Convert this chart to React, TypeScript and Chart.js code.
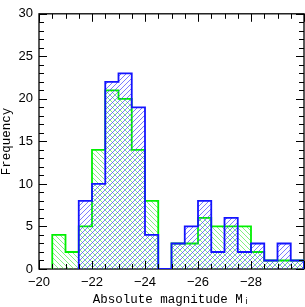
import React, { useEffect, useRef } from 'react';
import { Chart, registerables } from 'chart.js';

Chart.register(...registerables);

// Histogram bin edges (absolute magnitude), bins of 0.5 mag
const BIN_EDGES = [-20.5, -21, -21.5, -22, -22.5, -23, -23.5, -24, -24.5, -25, -25.5, -26, -26.5, -27, -27.5, -28, -28.5, -29, -29.5, -30];
const BLUE_COUNTS = [0, 0, 8, 10, 22, 23, 19, 4, 0, 3, 5, 8, 2, 6, 2, 3, 1, 3, 1];
const GREEN_COUNTS = [4, 2, 5, 14, 21, 20, 14, 8, 0, 3, 3, 6, 5, 5, 5, 2, 1, 1, 1];
const X_TICKS = [-20, -22, -24, -26, -28];
const Y_TICKS = [0, 5, 10, 15, 20, 25, 30];
const X_MIN = -30;
const X_MAX = -20;
const Y_MIN = 0;
const Y_MAX = 30;
const X_MINOR_STEP = 0.5;
const X_MAJOR_EVERY = 2;
const Y_MINOR_STEP = 1;
const Y_MAJOR_EVERY = 5;

const BLUE = 'rgb(20,20,255)';
const GREEN = 'rgb(0,240,0)';

function stepPoints(counts: number[]) {
  const first = counts.findIndex((v) => v > 0);
  let last = counts.length - 1;
  while (last > 0 && counts[last] === 0) last--;
  const pts: { x: number; y: number }[] = [{ x: BIN_EDGES[first], y: 0 }];
  for (let i = first; i <= last; i++) pts.push({ x: BIN_EDGES[i], y: counts[i] });
  pts.push({ x: BIN_EDGES[last + 1], y: counts[last] });
  pts.push({ x: BIN_EDGES[last + 1], y: 0 });
  return pts;
}

function hatch(ctx: CanvasRenderingContext2D, color: string, forward: boolean) {
  const s = 5;
  const c = document.createElement('canvas');
  c.width = s;
  c.height = s;
  const g = c.getContext('2d')!;
  g.strokeStyle = color;
  g.lineWidth = 0.9;
  g.beginPath();
  if (forward) {
    g.moveTo(0, s); g.lineTo(s, 0);
    g.moveTo(-1, 1); g.lineTo(1, -1);
    g.moveTo(s - 1, s + 1); g.lineTo(s + 1, s - 1);
  } else {
    g.moveTo(0, 0); g.lineTo(s, s);
    g.moveTo(-1, s - 1); g.lineTo(1, s + 1);
    g.moveTo(s - 1, -1); g.lineTo(s + 1, 1);
  }
  g.stroke();
  return ctx.createPattern(c, 'repeat')!;
}

const framePlugin = {
  id: 'frame',
  beforeDatasetsDraw(chart: any) {
    const { ctx, chartArea: a } = chart;
    ctx.save();
    ctx.strokeStyle = '#000';
    ctx.lineWidth = 1.3;
    ctx.strokeRect(a.left, a.top, a.right - a.left, a.bottom - a.top);
    ctx.restore();
  },
  afterDatasetsDraw(chart: any) {
    const { ctx, chartArea: a, scales } = chart;
    const xs = scales.x;
    const ys = scales.y;
    ctx.save();
    ctx.strokeStyle = '#000';
    ctx.lineWidth = 1;
    ctx.beginPath();
    const nx = Math.round((X_MAX - X_MIN) / X_MINOR_STEP);
    for (let i = 0; i <= nx; i++) {
      const v = X_MAX - i * X_MINOR_STEP;
      const px = Math.round(xs.getPixelForValue(v)) + 0.5;
      const major = Math.abs(v / X_MAJOR_EVERY - Math.round(v / X_MAJOR_EVERY)) < 1e-6;
      const len = major ? 8 : 5;
      ctx.moveTo(px, a.bottom); ctx.lineTo(px, a.bottom - len);
      ctx.moveTo(px, a.top); ctx.lineTo(px, a.top + len);
    }
    const ny = Math.round((Y_MAX - Y_MIN) / Y_MINOR_STEP);
    for (let i = 0; i <= ny; i++) {
      const v = Y_MIN + i * Y_MINOR_STEP;
      const py = Math.round(ys.getPixelForValue(v)) + 0.5;
      const major = v % Y_MAJOR_EVERY === 0;
      const len = major ? 8 : 5;
      ctx.moveTo(a.left, py); ctx.lineTo(a.left + len, py);
      ctx.moveTo(a.right, py); ctx.lineTo(a.right - len, py);
    }
    ctx.stroke();
    ctx.restore();
  },
};

export default function App() {
  const ref = useRef<HTMLCanvasElement>(null);
  useEffect(() => {
    document.body.style.margin = '0';
    const canvas = ref.current!;
    const ctx = canvas.getContext('2d')!;
    const tickFont = { family: '"Liberation Sans", Arial, sans-serif', size: 13 };
    const titleFont = { family: '"Liberation Mono", "DejaVu Sans Mono", monospace', size: 12.5, lineHeight: 1 };
    const chart = new Chart(canvas, {
      type: 'line',
      data: {
        datasets: [
          {
            label: 'blue',
            data: stepPoints(BLUE_COUNTS),
            stepped: true,
            borderColor: BLUE,
            borderWidth: 1.8,
            backgroundColor: hatch(ctx, 'rgba(60,60,255,0.75)', true),
            fill: 'origin',
            pointRadius: 0,
          },
          {
            label: 'green',
            data: stepPoints(GREEN_COUNTS),
            stepped: true,
            borderColor: GREEN,
            borderWidth: 1.8,
            backgroundColor: hatch(ctx, 'rgba(40,230,40,0.65)', false),
            fill: 'origin',
            pointRadius: 0,
          },
        ],
      },
      options: {
        responsive: false,
        animation: false,
        devicePixelRatio: 1,
        layout: { padding: { top: 4, right: 1, left: 0, bottom: 0 } },
        plugins: { legend: { display: false }, tooltip: { enabled: false } },
        scales: {
          x: {
            type: 'linear',
            min: X_MIN,
            max: X_MAX,
            reverse: true,
            grid: { display: false, drawTicks: false },
            border: { display: false },
            afterBuildTicks: (s: any) => { s.ticks = X_TICKS.map((v) => ({ value: v })); },
            afterFit: (s: any) => { s.height = 38; },
            ticks: {
              autoSkip: false,
              maxRotation: 0,
              padding: 6,
              color: '#000',
              font: tickFont,
              callback: (v: any) => (v < 0 ? '\u2212' : '') + Math.abs(v),
            },
            title: {
              display: true,
              text: 'Absolute magnitude M\u1D62',
              color: '#000',
              font: titleFont,
              padding: { top: 0, bottom: 1 },
            },
          },
          y: {
            min: Y_MIN,
            max: Y_MAX,
            grid: { display: false, drawTicks: false },
            border: { display: false },
            afterBuildTicks: (s: any) => { s.ticks = Y_TICKS.map((v) => ({ value: v })); },
            afterFit: (s: any) => { s.width = 39; },
            ticks: { padding: 6, color: '#000', font: tickFont },
            title: {
              display: true,
              text: 'Frequency',
              color: '#000',
              font: titleFont,
              padding: { top: 0, bottom: 0 },
            },
          },
        },
      },
      plugins: [framePlugin],
    });
    return () => chart.destroy();
  }, []);
  return <canvas ref={ref} width={305} height={307} style={{ display: 'block' }} />;
}
